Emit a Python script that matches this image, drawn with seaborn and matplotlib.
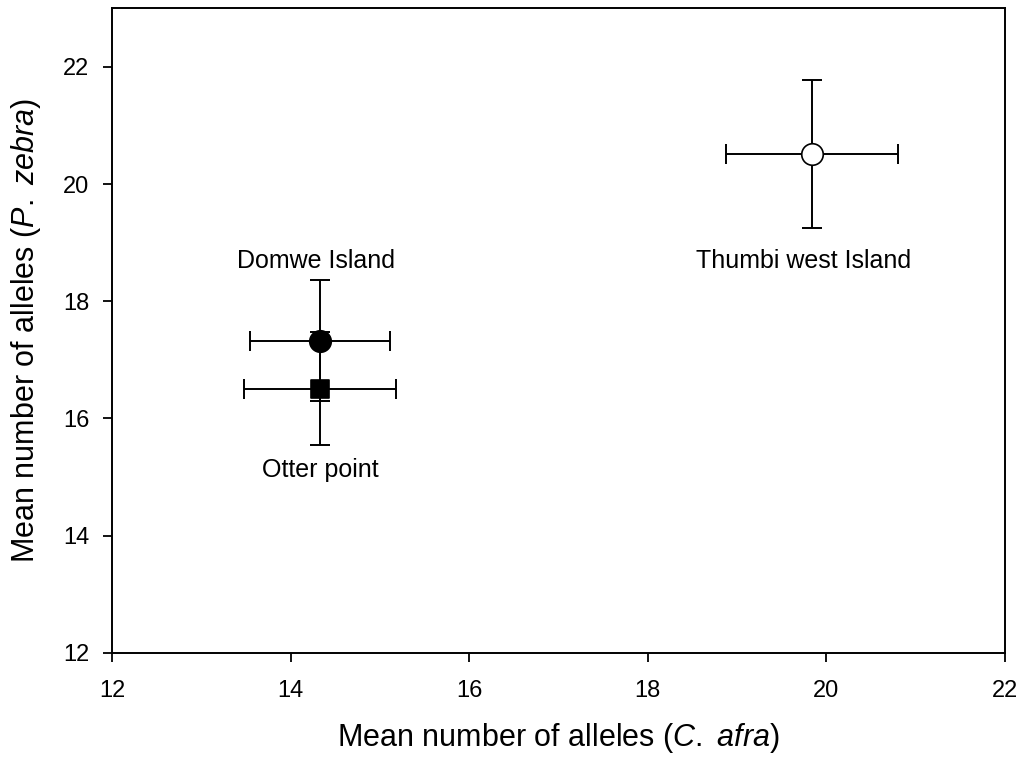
import matplotlib
matplotlib.use("Agg")
import matplotlib.pyplot as plt
import seaborn as sns
import pandas as pd

sites = ["Domwe Island", "Otter point", "Thumbi west Island"]
c_afra = [14.33, 14.33, 19.84]
c_afra_err = [0.78, 0.85, 0.965]
p_zebra = [17.33, 16.51, 20.51]
p_zebra_err = [1.04, 0.97, 1.26]
markers = ["o", "s", "o"]
faces = ["black", "black", "white"]
sizes = [15.5, 13.5, 15.5]
label_pos = [(14.28, 18.68), (14.33, 15.12), (19.75, 18.68)]

df = pd.DataFrame({"site": sites, "x": c_afra, "xerr": c_afra_err,
                   "y": p_zebra, "yerr": p_zebra_err})

sns.set_theme(style="ticks")
plt.rcParams['font.family'] = ['Liberation Sans', 'DejaVu Sans']
plt.rcParams['mathtext.fontset'] = 'custom'
plt.rcParams['mathtext.rm'] = 'Liberation Sans'
plt.rcParams['mathtext.it'] = 'Liberation Sans:italic'
plt.rcParams['text.color'] = 'black'
plt.rcParams['axes.labelcolor'] = 'black'

fig = plt.figure(figsize=(10.19, 7.6), dpi=100)
ax = fig.add_axes([0.11, 0.141, 0.876, 0.848])

for i, r in df.iterrows():
    ax.errorbar(r["x"], r["y"], xerr=r["xerr"], yerr=r["yerr"], fmt="none",
                ecolor="black", elinewidth=1.4, capsize=7, capthick=1.4, zorder=2)

for i, r in df.iterrows():
    sns.scatterplot(x=[r["x"]], y=[r["y"]], marker=markers[i], s=sizes[i] ** 2,
                    color=faces[i], edgecolor="black", linewidth=1.2, ax=ax,
                    zorder=3, legend=False)

for s, (lx, ly) in zip(sites, label_pos):
    ax.text(lx, ly, s, ha="center", va="center", fontsize=18, color="black")

ax.set_xlim(12, 22)
ax.set_ylim(12, 23)
ax.set_xticks([12, 14, 16, 18, 20, 22])
ax.set_yticks([12, 14, 16, 18, 20, 22])
ax.tick_params(direction="out", length=6.5, width=1.3, labelsize=17, colors="black", pad=10)
ax.tick_params(axis="x", pad=13)
for sp in ax.spines.values():
    sp.set_visible(True)
    sp.set_linewidth(1.4)
    sp.set_color("black")

ax.set_xlabel("Mean number of alleles ($\\it{C.}$ $\\it{afra}$)", fontsize=22, labelpad=14)
ax.set_ylabel("Mean number of alleles ($\\it{P.}$ $\\it{zebra}$)", fontsize=22, labelpad=14)

fig.savefig("out.png", dpi=100)
